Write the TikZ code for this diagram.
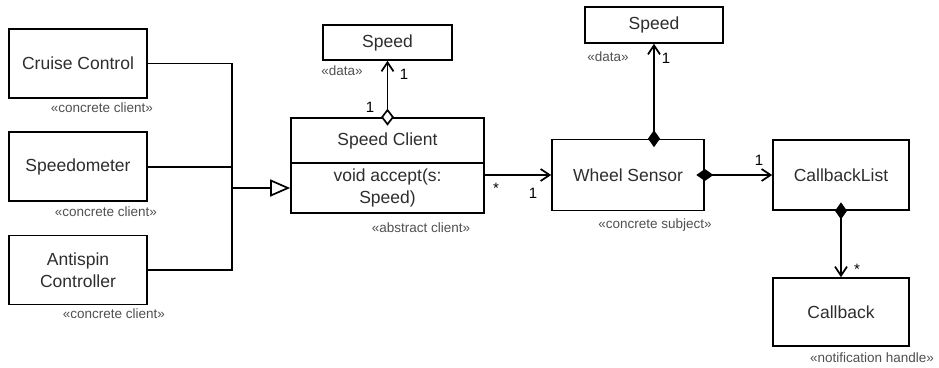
\documentclass[tikz,border=0pt]{standalone}
\usepackage{fontspec}
\setmainfont{Liberation Sans}
\usetikzlibrary{arrows.meta,positioning}
\definecolor{ink}{HTML}{2E2E2E}
\definecolor{ink2}{HTML}{505050}
\tikzset{
  cls/.style={draw=black,line width=1.7pt,fill=white,align=center,font=\fontsize{17.5}{22}\selectfont,text=ink,inner sep=0pt},
  stereo/.style={font=\fontsize{13.5}{15}\selectfont,text=ink2,inner sep=0pt},
  mult/.style={font=\fontsize{15}{17}\selectfont,inner sep=0pt},
  wire/.style={draw=black,line width=1.7pt},
  assoc/.style={wire,-{Straight Barb[length=9pt,width=12pt]}},
  aggr/.style={wire,{Diamond[fill=white,length=17pt,width=13pt]}-{Straight Barb[length=9pt,width=12pt]},shorten <=-8.5pt},
  comp/.style={wire,{Diamond[length=17pt,width=12pt]}-{Straight Barb[length=9pt,width=12pt]},shorten <=-8.5pt},
  gen/.style={wire,-{Triangle[open,fill=white,length=20pt,width=17pt]}},
}

\begin{document}
\begin{tikzpicture}[x=1pt,y=-1pt]
  \useasboundingbox[fill=white] (0,0) rectangle (939,367);
  % clients
  \node[cls,minimum width=138pt,minimum height=69pt] (cruise) at (78,63.5) {Cruise Control};
  \node[cls,minimum width=138pt,minimum height=69pt,below=32.5pt of cruise] (speedo) {Speedometer};
  \node[cls,minimum width=138pt,minimum height=69pt,below=32.5pt of speedo] (antispin) {Antispin\\Controller};
  \node[stereo] (cruiseSt) at (102,108) {«concrete client»};
  \node[stereo] (speedoSt) at (106,212) {«concrete client»};
  \node[stereo] (antispinSt) at (114,314) {«concrete client»};
  % abstract client
  \node[cls,minimum width=193pt,minimum height=45pt] (sc) at (387.5,140.5) {Speed Client};
  \node[cls,minimum width=193pt,minimum height=50pt] (scm) at (387.5,188) {void accept(s:\\Speed)};
  \node[stereo] (scSt) at (421,228) {«abstract client»};
  \node[cls,minimum width=129pt,minimum height=35pt] (speedA) at (387.5,42.5) {Speed};
  \node[stereo] (speedASt) at (342,71) {«data»};
  % subject
  \node[cls,minimum width=152pt,minimum height=71pt] (wheel) at (628,175) {Wheel Sensor};
  \node[stereo] (wheelSt) at (655,225) {«concrete subject»};
  \node[cls,minimum width=138pt,minimum height=36pt] (speedB) at (654,25) {Speed};
  \node[stereo] (speedBSt) at (608,57) {«data»};
  \node[cls,minimum width=136pt,minimum height=70pt] (cblist) at (841,175) {CallbackList};
  \node[cls,minimum width=136pt,minimum height=68pt] (cb) at (841,312) {Callback};
  \node[stereo] (cbSt) at (872,358) {«notification handle»};
  % generalisation bus
  \coordinate (bus) at (232,188);
  \draw[wire] (cruise.east) -| (bus);
  \draw[wire] (antispin.east) -| (bus);
  \draw[wire] (speedo.east) -- (speedo.east -| bus);
  \draw[gen] (bus) -- (scm.west);
  % associations
  \draw[aggr] (sc.north) -- (speedA.south);
  \draw[assoc] (sc.east |- wheel.west) -- (wheel.west);
  \draw[comp] (speedB.south |- wheel.north) -- (speedB.south);
  \draw[comp] (wheel.east) -- (cblist.west);
  \draw[comp] (cblist.south) -- (cb.north);
  % multiplicities
  \node[mult] (mA1) at (404,74) {1};
  \node[mult] (mA2) at (370,107) {1};
  \node[mult] (mW1) at (496,188) {*};
  \node[mult] (mW2) at (533,193) {1};
  \node[mult] (mB1) at (666,58) {1};
  \node[mult] (mL1) at (759,160) {1};
  \node[mult] (mC1) at (857,269) {*};
\end{tikzpicture}
\end{document}
